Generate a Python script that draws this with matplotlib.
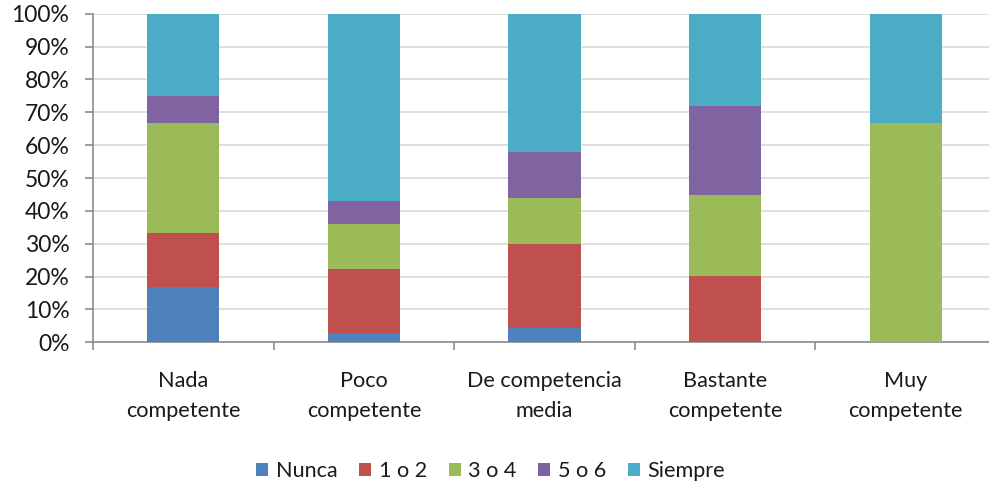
import matplotlib
matplotlib.use("Agg")
import matplotlib.pyplot as plt
import numpy as np
from matplotlib.ticker import PercentFormatter, FixedLocator

plt.rcParams['font.family'] = ['Lato', 'DejaVu Sans']

categories = ["Nada\ncompetente", "Poco\ncompetente", "De competencia\nmedia",
              "Bastante\ncompetente", "Muy\ncompetente"]
series_names = ["Nunca", "1 o 2", "3 o 4", "5 o 6", "Siempre"]
nunca   = [16.7, 2.8, 4.4, 0.0, 0.0]
uno_dos = [16.7, 19.4, 25.4, 20.3, 0.0]
tres_cuatro = [33.3, 13.9, 14.2, 24.4, 66.7]
cinco_seis  = [8.3, 7.0, 13.9, 27.3, 0.0]
siempre = [25.0, 56.9, 42.1, 27.9, 33.3]
colors = ["#4F81BD", "#C0504D", "#9BBB59", "#8064A2", "#4BACC6"]

series = [nunca, uno_dos, tres_cuatro, cinco_seis, siempre]

fig = plt.figure(figsize=(9.89, 4.86), dpi=100)
ax = fig.add_axes([93/989, 1 - 342.3/486, 903/989, 328.5/486])

x = np.arange(len(categories))
bottom = np.zeros(len(categories))
totals = np.array([sum(s[i] for s in series) for i in range(len(categories))])
handles = []
for name, vals, col in zip(series_names, series, colors):
    frac = np.array(vals) / totals * 100
    h = ax.bar(x, frac, 0.4, bottom=bottom, color=col, label=name, zorder=3,
               linewidth=0)
    bottom += frac
    handles.append(h)

ax.set_xlim(-0.5, len(categories) - 0.5)
ax.set_ylim(0, 100)
ax.yaxis.set_major_locator(FixedLocator(np.arange(0, 101, 10)))
ax.yaxis.set_major_formatter(PercentFormatter(decimals=0))
ax.grid(axis='y', color='#D9D9D9', linewidth=1.2, zorder=0)

ax.set_xticks(x)
ax.set_xticklabels(categories, fontsize=15.6, color='#1a1a1a', linespacing=1.6)
ax.set_xticks(np.arange(-0.5, len(categories) + 0.5, 1), minor=True)
ax.tick_params(axis='x', which='major', length=0, pad=21)
ax.tick_params(axis='x', which='minor', length=6, color='#8C8C8C', width=1.2)
ax.tick_params(axis='y', length=6, color='#8C8C8C', width=1.2, labelsize=16.5,
               labelcolor='#1a1a1a', pad=11)

for side in ['top', 'right']:
    ax.spines[side].set_visible(False)
for side in ['left', 'bottom']:
    ax.spines[side].set_color('#8C8C8C')
    ax.spines[side].set_linewidth(1.2)

fig.legend(handles=handles, labels=series_names, loc='center',
           bbox_to_anchor=(0.496, 1 - 471/486), ncol=5, frameon=False,
           fontsize=15.6, handlelength=0.55, handleheight=0.55, handletextpad=0.35,
           columnspacing=1.0, labelcolor='#1a1a1a')

fig.savefig("out.png", dpi=100)
